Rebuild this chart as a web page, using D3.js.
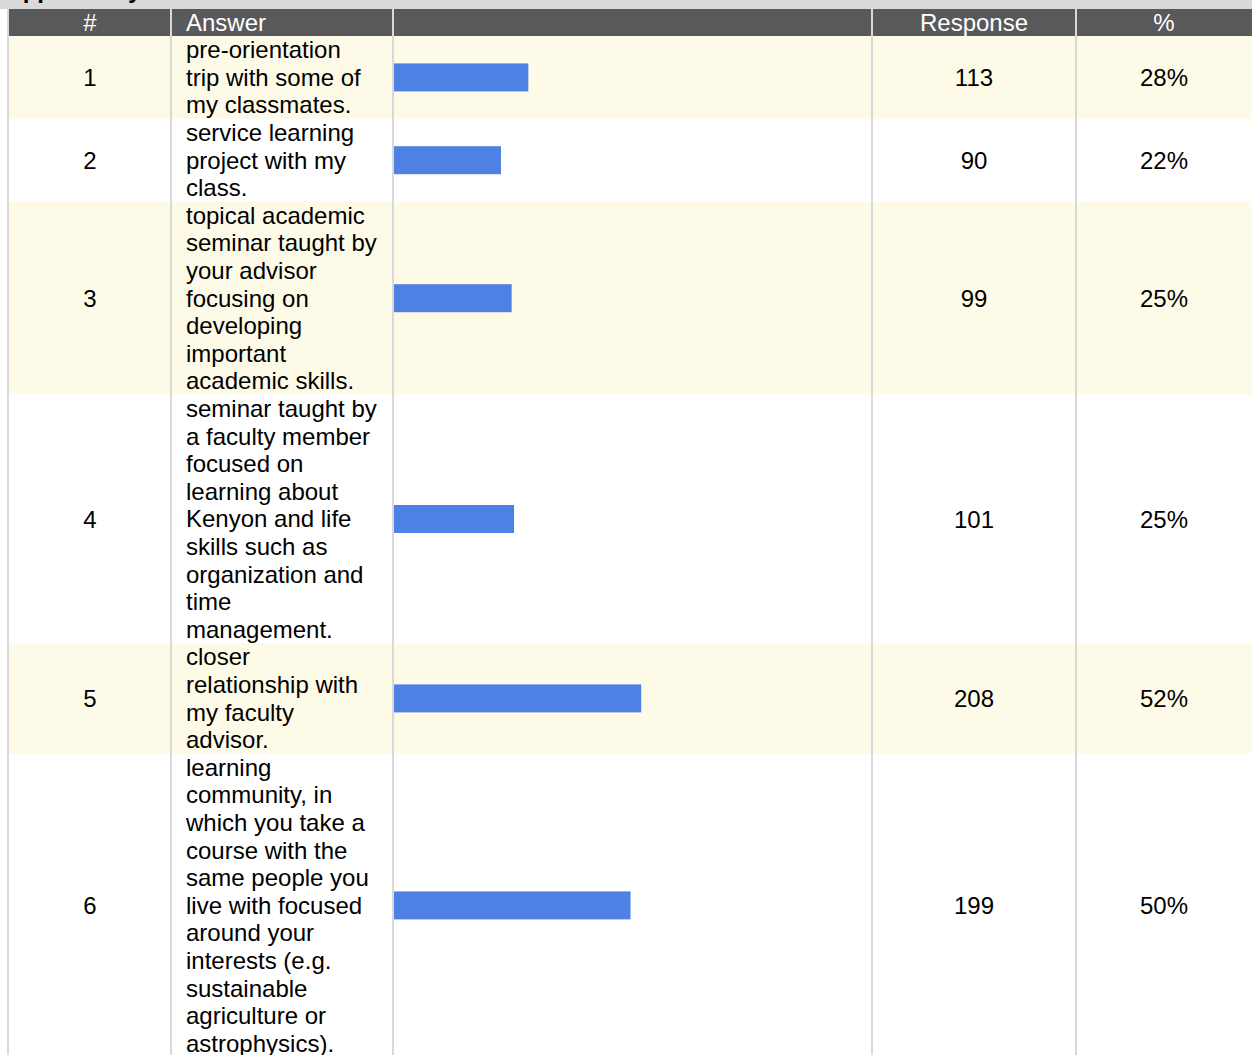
<!DOCTYPE html>
<html>
<head>
<meta charset="utf-8">
<script src="https://cdn.jsdelivr.net/npm/d3@7"></script>
<style>
  body { margin: 0; background: #fff; overflow: hidden; }
  text { font-family: Arial, "Liberation Sans", sans-serif; }
</style>
</head>
<body>
<div id="chart"></div>
<script>
// table data
var headers = ['#', 'Answer', '', 'Response', '%'];
var rowIds = [1, 2, 3, 4, 5, 6];
var answers = [
  ['pre-orientation', 'trip with some of', 'my classmates.'],
  ['service learning', 'project with my', 'class.'],
  ['topical academic', 'seminar taught by', 'your advisor', 'focusing on', 'developing', 'important', 'academic skills.'],
  ['seminar taught by', 'a faculty member', 'focused on', 'learning about', 'Kenyon and life', 'skills such as', 'organization and', 'time', 'management.'],
  ['closer', 'relationship with', 'my faculty', 'advisor.'],
  ['learning', 'community, in', 'which you take a', 'course with the', 'same people you', 'live with focused', 'around your', 'interests (e.g.', 'sustainable', 'agriculture or', 'astrophysics).']
];
var responses = [113, 90, 99, 101, 208, 199];
var percents = ['28%', '22%', '25%', '25%', '52%', '50%'];
var respondents = 403;
var titleText = 'Opportunity';

var W = 1252, H = 1055;
var lineH = 27.6, fs = 24;
var headTop = 9, headH = 27;
// column edges
var cols = [9, 171, 393, 872, 1076, 1252];

var svg = d3.select('#chart').append('svg')
    .attr('width', W)
    .attr('height', H);

// top band (title mostly scrolled off)
svg.append('rect').attr('x', 0).attr('y', 0).attr('width', W).attr('height', headTop)
    .attr('fill', '#d9d9d9');
svg.append('text').attr('x', 4).attr('y', -2)
    .attr('font-size', fs).attr('font-weight', 'bold').attr('fill', '#000')
    .text(titleText);

// header
svg.append('rect').attr('x', cols[0]).attr('y', headTop).attr('width', W - cols[0]).attr('height', headH)
    .attr('fill', '#58595b');

svg.selectAll('.head')
  .data(headers)
  .enter().append('text')
    .attr('class', 'head')
    .attr('x', function(d, i) {
      if (i === 1) return cols[1] + 15;
      return (cols[i] + cols[i + 1]) / 2;
    })
    .attr('y', headTop + 21.5)
    .attr('text-anchor', function(d, i) { return i === 1 ? 'start' : 'middle'; })
    .attr('font-size', fs)
    .attr('fill', '#fff')
    .text(function(d) { return d; });

// row positions from line counts
var rowTops = [], acc = headTop + headH;
answers.forEach(function(a) { rowTops.push(acc); acc += a.length * lineH; });

var x = d3.scaleLinear().domain([0, respondents]).range([0, cols[3] - cols[2]]);

var rows = svg.selectAll('.row')
  .data(rowIds)
  .enter().append('g')
    .attr('class', 'row')
    .attr('transform', function(d, i) { return 'translate(0,' + rowTops[i] + ')'; });

rows.append('rect')
    .attr('x', cols[0]).attr('y', 0)
    .attr('width', W - cols[0])
    .attr('height', function(d, i) { return answers[i].length * lineH; })
    .attr('fill', function(d, i) { return i % 2 === 0 ? '#fdfbe7' : '#fff'; });

function mid(i) { return answers[i].length * lineH / 2; }

rows.append('text')
    .attr('x', (cols[0] + cols[1]) / 2)
    .attr('y', function(d, i) { return mid(i) + 8.6; })
    .attr('text-anchor', 'middle').attr('font-size', fs).attr('fill', '#000')
    .text(function(d) { return d; });

rows.append('text')
    .attr('font-size', fs).attr('fill', '#000')
    .each(function(d, i) {
      d3.select(this).selectAll('tspan')
        .data(answers[i])
        .enter().append('tspan')
          .attr('x', cols[1] + 15)
          .attr('y', function(t, j) { return 22.2 + j * lineH; })
          .text(function(t) { return t; });
    });

rows.append('rect')
    .attr('x', cols[2] + 1)
    .attr('y', function(d, i) { return mid(i) - 14; })
    .attr('width', function(d, i) { return x(responses[i]); })
    .attr('height', 28)
    .attr('fill', '#4e81e3');

rows.append('text')
    .attr('x', (cols[3] + cols[4]) / 2)
    .attr('y', function(d, i) { return mid(i) + 8.6; })
    .attr('text-anchor', 'middle').attr('font-size', fs).attr('fill', '#000')
    .text(function(d, i) { return responses[i]; });

rows.append('text')
    .attr('x', (cols[4] + cols[5]) / 2)
    .attr('y', function(d, i) { return mid(i) + 8.6; })
    .attr('text-anchor', 'middle').attr('font-size', fs).attr('fill', '#000')
    .text(function(d, i) { return percents[i]; });

// column separators
svg.selectAll('.sep')
  .data([8, 171, 393, 872, 1076])
  .enter().append('line')
    .attr('class', 'sep')
    .attr('x1', function(d) { return d; }).attr('x2', function(d) { return d; })
    .attr('y1', headTop).attr('y2', H)
    .attr('stroke', '#d9d9d9').attr('stroke-width', 2);
</script>
</body>
</html>
